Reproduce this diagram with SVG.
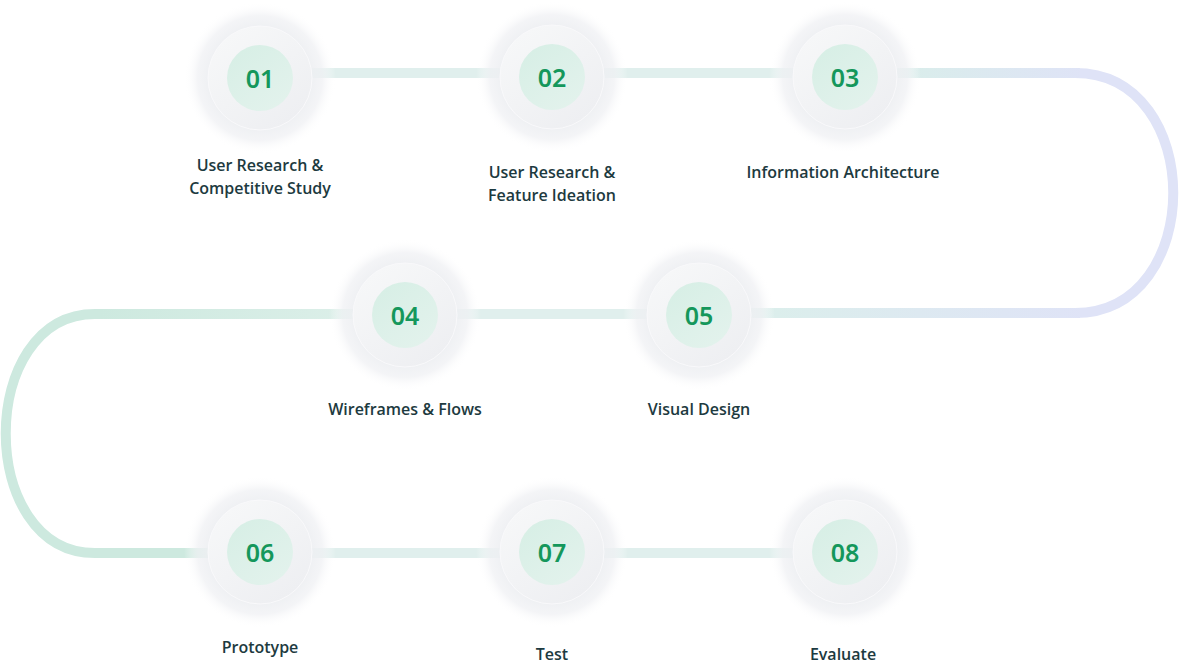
<svg xmlns="http://www.w3.org/2000/svg" width="1181" height="665" viewBox="0 0 1181 665">
<defs>
<radialGradient id="glow" cx="0.5" cy="0.5" r="0.5">
<stop offset="0.6" stop-color="#eceef1" stop-opacity="1"/>
<stop offset="0.82" stop-color="#f0f1f4" stop-opacity="0.75"/>
<stop offset="1" stop-color="#ffffff" stop-opacity="0"/>
</radialGradient>
<linearGradient id="disc" x1="0.2" y1="0.1" x2="0.8" y2="0.9">
<stop offset="0" stop-color="#f6f7f8"/>
<stop offset="1" stop-color="#eeeff2"/>
</linearGradient>
<linearGradient id="inner" x1="0.2" y1="0.1" x2="0.8" y2="0.9">
<stop offset="0" stop-color="#d8efe6"/>
<stop offset="1" stop-color="#e2f2ec"/>
</linearGradient>
<linearGradient id="toLav" gradientUnits="userSpaceOnUse" x1="895" y1="0" x2="1090" y2="0">
<stop offset="0" stop-color="#d9eeea"/>
<stop offset="1" stop-color="#dfe3f7"/>
</linearGradient>
<linearGradient id="fromLav" gradientUnits="userSpaceOnUse" x1="750" y1="0" x2="1090" y2="0">
<stop offset="0" stop-color="#dbefeb"/>
<stop offset="1" stop-color="#dfe3f7"/>
</linearGradient>
<linearGradient id="leftGreen" gradientUnits="userSpaceOnUse" x1="100" y1="0" x2="360" y2="0">
<stop offset="0" stop-color="#cde9df"/>
<stop offset="1" stop-color="#dcefe9"/>
</linearGradient>
<style>
.seg{fill:none;stroke:#e0efed;stroke-width:10}
.lbl{font-family:"Open Sans","Noto Sans","Liberation Sans",sans-serif;font-size:16px;font-weight:600;fill:#1d3a40;text-anchor:middle}
.num{font-family:"Noto Sans","Open Sans","Liberation Sans",sans-serif;font-size:25px;font-weight:600;fill:#14975b;text-anchor:middle;dominant-baseline:central}
.glow{fill:url(#glow)}
.disc{fill:url(#disc);stroke:#f9f9fb;stroke-width:1}
.inner{fill:url(#inner)}
</style>
</defs>
<rect width="1181" height="665" fill="#ffffff"/>
<g id="connectors">
<path class="seg" d="M300 73 H510"/>
<path class="seg" d="M595 73 H800"/>
<path d="M890 73 H1075 C1206 73 1206 313 1075 313 H740" fill="none" stroke="#dfe3f7" stroke-width="10"/>
<path d="M890 73 H1080" fill="none" stroke="url(#toLav)" stroke-width="10"/>
<path d="M740 313 H1080" fill="none" stroke="url(#fromLav)" stroke-width="10"/>
<path class="seg" d="M445 314 H660"/>
<path d="M360 314 H95 C-24 314 -24 553 95 553 H215" fill="none" stroke="#cde9df" stroke-width="10"/>
<path d="M360 314 H100" fill="none" stroke="url(#leftGreen)" stroke-width="10"/>
<path class="seg" d="M300 553 H510"/>
<path class="seg" d="M595 553 H800"/>
</g>
<g id="node-01">
<circle class="glow" cx="260" cy="78" r="76"/>
<circle class="disc" cx="260" cy="78" r="52"/>
<circle class="inner" cx="260" cy="78" r="33"/>
<text class="num" x="260" y="78">01</text>
<text class="lbl" x="260" y="171">User Research &amp;</text>
<text class="lbl" x="260" y="194">Competitive Study</text>
</g>
<g id="node-02">
<circle class="glow" cx="552" cy="77" r="76"/>
<circle class="disc" cx="552" cy="77" r="52"/>
<circle class="inner" cx="552" cy="77" r="33"/>
<text class="num" x="552" y="77">02</text>
<text class="lbl" x="552" y="178">User Research &amp;</text>
<text class="lbl" x="552" y="201">Feature Ideation</text>
</g>
<g id="node-03">
<circle class="glow" cx="845" cy="77" r="76"/>
<circle class="disc" cx="845" cy="77" r="52"/>
<circle class="inner" cx="845" cy="77" r="33"/>
<text class="num" x="845" y="77">03</text>
<text class="lbl" x="843" y="178">Information Architecture</text>
</g>
<g id="node-04">
<circle class="glow" cx="405" cy="315" r="76"/>
<circle class="disc" cx="405" cy="315" r="52"/>
<circle class="inner" cx="405" cy="315" r="33"/>
<text class="num" x="405" y="315">04</text>
<text class="lbl" x="405" y="415">Wireframes &amp; Flows</text>
</g>
<g id="node-05">
<circle class="glow" cx="699" cy="315" r="76"/>
<circle class="disc" cx="699" cy="315" r="52"/>
<circle class="inner" cx="699" cy="315" r="33"/>
<text class="num" x="699" y="315">05</text>
<text class="lbl" x="699" y="415">Visual Design</text>
</g>
<g id="node-06">
<circle class="glow" cx="260" cy="552" r="76"/>
<circle class="disc" cx="260" cy="552" r="52"/>
<circle class="inner" cx="260" cy="552" r="33"/>
<text class="num" x="260" y="552">06</text>
<text class="lbl" x="260" y="653">Prototype</text>
</g>
<g id="node-07">
<circle class="glow" cx="552" cy="552" r="76"/>
<circle class="disc" cx="552" cy="552" r="52"/>
<circle class="inner" cx="552" cy="552" r="33"/>
<text class="num" x="552" y="552">07</text>
<text class="lbl" x="552" y="660">Test</text>
</g>
<g id="node-08">
<circle class="glow" cx="845" cy="552" r="76"/>
<circle class="disc" cx="845" cy="552" r="52"/>
<circle class="inner" cx="845" cy="552" r="33"/>
<text class="num" x="845" y="552">08</text>
<text class="lbl" x="843" y="660">Evaluate</text>
</g>
</svg>
